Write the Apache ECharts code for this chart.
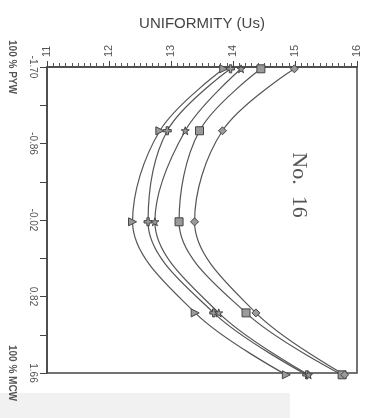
<!DOCTYPE html>
<html>
<head>
<meta charset="utf-8">
<style>
  html, body { margin: 0; padding: 0; background: #fff; }
  #chart { width: 367px; height: 418px; }
</style>
<script src="https://cdn.jsdelivr.net/npm/echarts@6/dist/echarts.min.js"></script>
</head>
<body>
<div id="chart"></div>
<script>
// design points (coded level, top -> bottom)
const positions = [-1.68, -1.0, 0, 1.0, 1.68]

// uniformity (Us) for each curve
const triangleValues = [13.85, 12.82, 12.38, 13.39, 14.86]
const hashValues = [13.96, 12.94, 12.63, 13.69, 15.19]
const starValues = [14.13, 13.23, 12.74, 13.77, 15.22]
const squareValues = [14.45, 13.46, 13.13, 14.21, 15.76]
const diamondValues = [14.99, 13.83, 13.38, 14.37, 15.80]

// tick labels
const positionTicks = [-1.70, -0.86, -0.02, 0.82, 1.66]
const positionLabels = ['-1.70', '-0.86', '-0.02', '0.82', '1.66']
const minorPositionTicks = [-1.28, -0.44, 0.40, 1.24]
const endTicks = [-1.70, 1.66]
const endLabels = ['100 % PYW', '100 % MCW']

const STAR = 'path://M0,-10 L2.4,-3.2 L9.5,-3.1 L3.8,1.2 L5.9,8.1 L0,4 L-5.9,8.1 L-3.8,1.2 L-9.5,-3.1 L-2.4,-3.2 Z'
const HASH = 'path://M-3,-10 L3,-10 L3,-3 L10,-3 L10,3 L3,3 L3,10 L-3,10 L-3,3 L-10,3 L-10,-3 L-3,-3 Z'

const chart = echarts.init(document.getElementById('chart'))

const labelFor = (ticks, labels) => (value) => {
  let best = 0
  ticks.forEach((t, i) => {
    if (Math.abs(t - value) < Math.abs(ticks[best] - value)) best = i
  })
  return labels[best]
}

const makeSeries = (name, values, symbol, rotate) => ({
  name,
  type: 'line',
  smooth: 0.35,
  clip: false,
  data: values.map((v, i) => [v, positions[i]]),
  symbol,
  symbolSize: 8,
  symbolRotate: rotate || 0,
  lineStyle: { color: '#555', width: 1.2 },
  itemStyle: { color: '#9a9a9a', borderColor: '#444', borderWidth: 1 }
})

const option = {
  backgroundColor: '#fff',
  animation: false,
  grid: {
    left: 47,
    right: 10,
    top: 67,
    bottom: 45,
    show: true,
    borderColor: '#444',
    borderWidth: 1.5
  },
  graphic: [
    {
      type: 'rect',
      z: -10,
      shape: { x: 0, y: 393, width: 290, height: 25 },
      style: { fill: '#f1f1f1' }
    },
    {
      type: 'text',
      x: 299,
      y: 185,
      rotation: -Math.PI / 2,
      style: {
        text: 'No.  16',
        font: '22px "Liberation Serif"',
        fill: '#555',
        textAlign: 'center',
        textVerticalAlign: 'middle'
      }
    }
  ],
  xAxis: {
    type: 'value',
    position: 'top',
    min: 11,
    max: 16,
    interval: 1,
    name: 'UNIFORMITY (Us)',
    nameLocation: 'middle',
    nameGap: 36,
    nameTextStyle: { fontSize: 15, color: '#444', fontFamily: 'Liberation Sans' },
    axisLine: { show: true, onZero: false, lineStyle: { color: '#444', width: 1.5 } },
    axisTick: { show: true, length: 6, lineStyle: { color: '#444' } },
    minorTick: { show: true, splitNumber: 10, length: 4, lineStyle: { color: '#555' } },
    splitLine: { show: false },
    axisLabel: { rotate: -90, fontSize: 11, margin: 10, color: '#555', fontFamily: 'Liberation Sans' }
  },
  yAxis: [
    {
      type: 'value',
      inverse: true,
      min: -1.70,
      max: 1.66,
      axisLine: { show: true, onZero: false, lineStyle: { color: '#444', width: 1.5 } },
      axisTick: {
        show: true,
        length: 7,
        customValues: positionTicks.concat(minorPositionTicks),
        lineStyle: { color: '#444' }
      },
      splitLine: { show: false },
      axisLabel: {
        rotate: -90,
        fontSize: 10,
        margin: 9,
        color: '#555',
        fontFamily: 'Liberation Sans',
        customValues: positionTicks,
        formatter: labelFor(positionTicks, positionLabels)
      }
    },
    {
      type: 'value',
      inverse: true,
      min: -1.70,
      max: 1.66,
      position: 'left',
      offset: 30,
      axisLine: { show: false },
      axisTick: { show: false },
      splitLine: { show: false },
      axisLabel: {
        rotate: -90,
        fontSize: 10,
        fontWeight: 'bold',
        margin: 0,
        color: '#555',
        fontFamily: 'Liberation Sans',
        customValues: endTicks,
        formatter: labelFor(endTicks, endLabels)
      }
    }
  ],
  series: [
    makeSeries('triangle', triangleValues, 'triangle', -90),
    makeSeries('hash', hashValues, HASH),
    makeSeries('star', starValues, STAR),
    makeSeries('square', squareValues, 'rect'),
    makeSeries('diamond', diamondValues, 'diamond')
  ]
}

chart.setOption(option)
</script>
</body>
</html>
